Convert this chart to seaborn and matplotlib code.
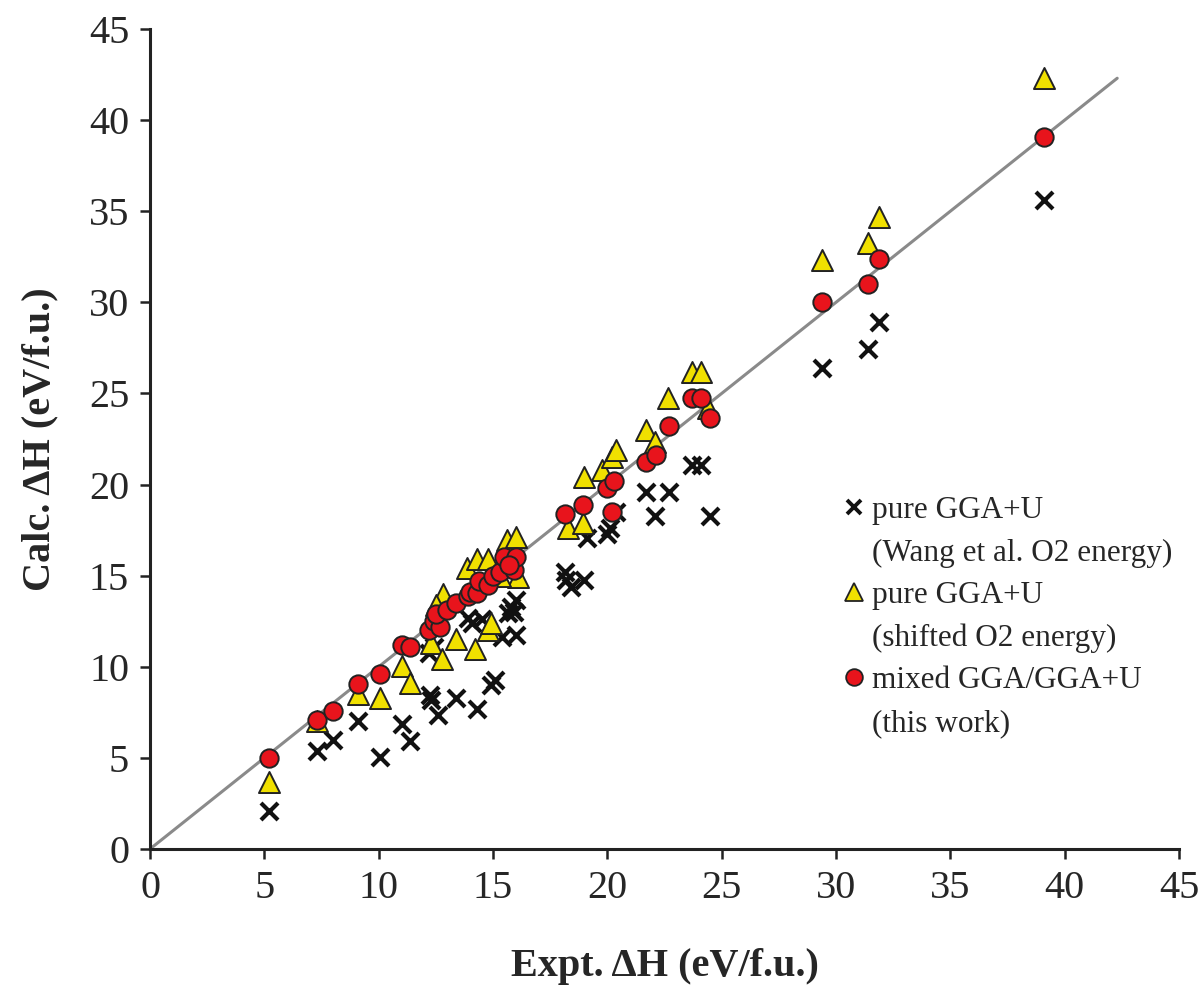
import pandas as pd
import seaborn as sns
import matplotlib.pyplot as plt
from matplotlib.lines import Line2D

# Datos (eV/f.u.)
# pure GGA+U (Wang et al. O2 energy) -> cruces
wang_x = [5.2, 7.3, 8.0, 9.1, 10.06, 11.0, 11.37,
          12.24, 12.3, 12.6, 13.4, 14.3, 14.9, 15.1, 12.2, 12.4, 13.9, 14.1,
          15.4, 16.0, 15.65, 15.8, 16.0, 14.5, 15.9,
          18.15, 18.4, 18.2, 19.0, 19.1, 19.97, 20.1, 20.4, 21.7, 22.7, 22.1,
          23.7, 24.1, 24.5,
          29.4, 31.4, 31.9, 39.1]
wang_y = [2.1, 5.4, 6.0, 7.0, 5.05, 6.85, 5.9,
          8.45, 8.2, 7.35, 8.3, 7.7, 9.0, 9.3, 10.75, 11.1, 12.7, 12.4,
          11.65, 11.75, 12.95, 13.3, 13.65, 12.6, 13.0,
          15.2, 14.4, 14.75, 14.75, 17.05, 17.3, 17.6, 18.5, 19.6, 19.6, 18.25,
          21.1, 21.1, 18.25,
          26.4, 27.45, 28.9, 35.6]

# pure GGA+U (shifted O2 energy) -> triangulos
shift_x = [5.2, 7.3, 9.1, 10.06, 11.0, 11.37,
           12.3, 12.75, 12.8, 12.5, 13.4, 13.85, 14.3, 14.2, 14.8, 14.8, 14.9,
           15.6, 16.0, 16.1, 15.3, 15.5,
           18.3, 18.95, 19.0, 19.75, 20.2, 20.4, 21.7, 22.1, 22.65, 23.7, 24.1, 24.4,
           29.4, 31.4, 31.9, 39.1]
shift_y = [3.7, 7.0, 8.5, 8.3, 10.05, 9.1,
           11.3, 10.4, 14.0, 13.4, 11.5, 15.4, 15.9, 11.0, 15.9, 12.0, 12.4,
           16.95, 17.1, 14.9, 15.0, 15.6,
           17.6, 17.9, 20.4, 20.8, 21.5, 21.9, 23.0, 22.35, 24.75, 26.2, 26.2, 24.2,
           32.3, 33.25, 34.7, 42.3]

# mixed GGA/GGA+U (this work) -> circulos
mixed_x = [5.2, 7.3, 8.0, 9.1, 10.06, 11.0, 11.37,
           12.2, 12.4, 12.7, 12.5, 13.0, 13.4, 13.9, 14.0, 14.3, 14.4, 14.8, 15.0,
           15.3, 15.5, 15.9, 16.0, 15.7,
           18.15, 18.95, 20.2, 19.97, 20.3, 21.7, 22.15, 22.7, 23.7, 24.1, 24.5,
           29.4, 31.4, 31.9, 39.1]
mixed_y = [5.0, 7.1, 7.6, 9.05, 9.6, 11.2, 11.1,
           12.0, 12.5, 12.2, 12.9, 13.1, 13.5, 13.9, 14.1, 14.05, 14.7, 14.5, 15.0,
           15.2, 16.05, 15.3, 16.05, 15.6,
           18.4, 18.9, 18.5, 19.8, 20.2, 21.25, 21.6, 23.2, 24.75, 24.75, 23.65,
           30.0, 31.0, 32.4, 39.1]

# Linea y = x
diag = [0, 42.3]

ticks = list(range(0, 50, 5))

sns.set_style("ticks")
plt.rcParams['font.family'] = ['Liberation Serif', 'DejaVu Serif']

fig = plt.figure(figsize=(12.03, 9.91), dpi=100)
ax = fig.add_axes([0.1247, 0.1433, 0.8553, 0.8274])

sns.lineplot(x=diag, y=diag, ax=ax, color='#8a8a8a', linewidth=2.2, zorder=1)

sns.scatterplot(x=wang_x, y=wang_y, ax=ax, marker='x', color='#111111',
                s=150, linewidth=3.0, zorder=2)
sns.scatterplot(x=shift_x, y=shift_y, ax=ax, marker='^', color='#f0e000',
                edgecolor='#222222', s=230, linewidth=1.4, zorder=3)
sns.scatterplot(x=mixed_x, y=mixed_y, ax=ax, marker='o', color='#e8141c',
                edgecolor='#222222', s=175, linewidth=1.4, zorder=4)

ax.set_xlim(0, 45)
ax.set_ylim(0, 45)
ax.set_xticks(ticks)
ax.set_yticks(ticks)
ax.tick_params(axis='both', labelsize=29, length=7, width=1.8, color='#222222',
               direction='out', pad=8)
for lado in ['top', 'right']:
    ax.spines[lado].set_visible(False)
for lado in ['left', 'bottom']:
    ax.spines[lado].set_linewidth(2.2)
    ax.spines[lado].set_color('#222222')

ax.set_xlabel('Expt. ΔH (eV/f.u.)', fontsize=29, fontweight='bold', labelpad=30)
ax.set_ylabel('Calc. ΔH (eV/f.u.)', fontsize=29, fontweight='bold', labelpad=22)

# Leyenda: la segunda linea de cada entrada sin marcador
vacio = Line2D([], [], linestyle='none', marker='')
handles = [
    Line2D([], [], linestyle='none', marker='x', color='#111111', markersize=10,
           markeredgewidth=2.8),
    vacio,
    Line2D([], [], linestyle='none', marker='^', markerfacecolor='#f0e000',
           markeredgecolor='#222222', markersize=13, markeredgewidth=1.3),
    vacio,
    Line2D([], [], linestyle='none', marker='o', markerfacecolor='#e8141c',
           markeredgecolor='#222222', markersize=12, markeredgewidth=1.3),
    vacio,
]
labels = ['pure GGA+U', '(Wang et al. O2 energy)',
          'pure GGA+U', '(shifted O2 energy)',
          'mixed GGA/GGA+U', '(this work)']
ax.legend(handles, labels, loc='upper left', bbox_to_anchor=(0.692, 0.512),
          bbox_transform=fig.transFigure, frameon=False, fontsize=22.5,
          handlelength=0.6, handletextpad=0.25, labelspacing=0.43,
          borderaxespad=0)

fig.savefig('out.png', dpi=100)
